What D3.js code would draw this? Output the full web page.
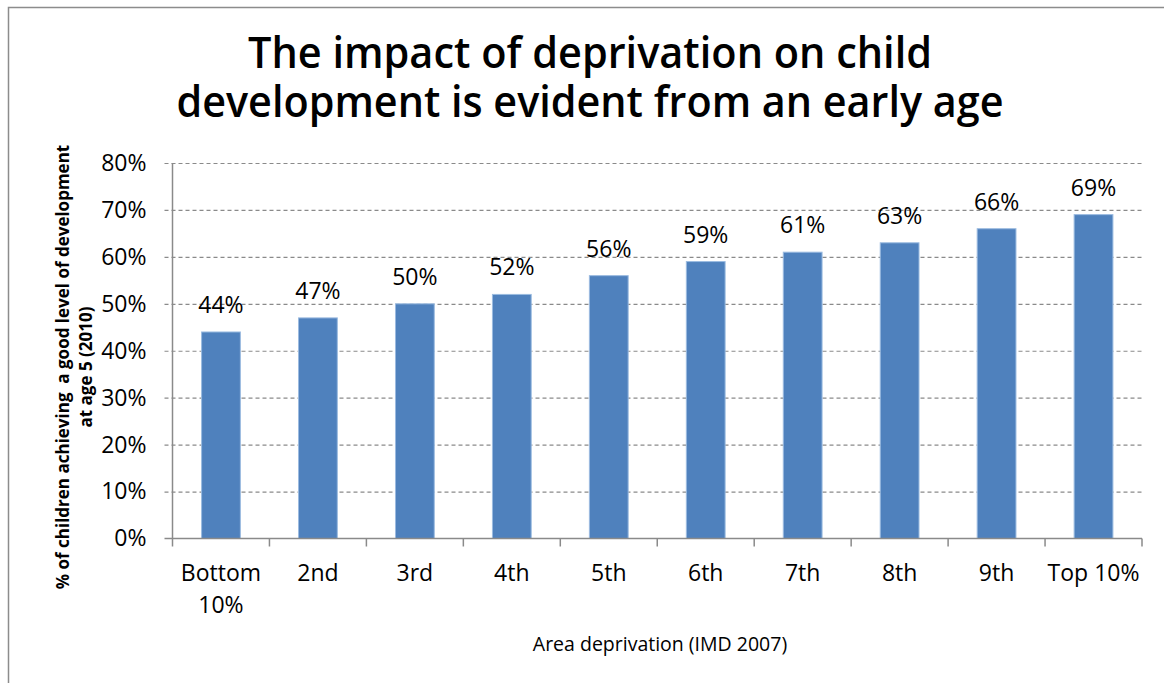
<!DOCTYPE html>
<html>
<head>
<meta charset="utf-8">
<script src="https://cdn.jsdelivr.net/npm/d3@7"></script>
<style>
  html, body { margin: 0; padding: 0; background: #fff; }
  svg { display: block; font-family: "Open Sans", "Noto Sans", sans-serif; }
</style>
</head>
<body>
<svg id="chart" width="1164" height="683"></svg>
<script>
// Share of children reaching a good level of development at age 5, by area deprivation decile
const categories = ["Bottom 10%", "2nd", "3rd", "4th", "5th", "6th", "7th", "8th", "9th", "Top 10%"];
const values = [44, 47, 50, 52, 56, 59, 61, 63, 66, 69];
const yTicks = [0, 10, 20, 30, 40, 50, 60, 70, 80];
const titleLines = ["The impact of deprivation on child", "development is evident from an early age"];
const yTitleLines = ["% of children achieving  a good level of development", "at age 5 (2010)"];
const xTitle = "Area deprivation (IMD 2007)";

const svg = d3.select("#chart");
const W = 1164, H = 683;
const m = { left: 172.5, right: 1142, top: 163, bottom: 538.5 };

// Outer chart frame
svg.append("rect")
  .attr("x", 8.5).attr("y", 7.5)
  .attr("width", W + 20).attr("height", H + 20)
  .attr("fill", "none").attr("stroke", "#8c8c8c").attr("stroke-width", 1.5);

const x = d3.scaleBand().domain(categories).range([m.left, m.right]).paddingInner(0.6).paddingOuter(0.3);
const xb = d3.scaleBand().domain(categories).range([m.left, m.right]).padding(0);
const y = d3.scaleLinear().domain([0, 80]).range([m.bottom, m.top]);

// Title: one text element, one tspan per line
const titleWidths = [684, 827];
svg.append("text")
  .attr("text-anchor", "middle")
  .attr("font-size", 43.5).attr("font-weight", 600).attr("fill", "#000")
  .selectAll("tspan").data(titleLines).join("tspan")
  .attr("x", 590).attr("y", (d, i) => 68 + i * 48.5)
  .attr("textLength", (d, i) => titleWidths[i])
  .attr("lengthAdjust", "spacingAndGlyphs")
  .text(d => d);

// Dashed gridlines (with outward tick stubs)
const yAxis = d3.axisLeft(y).tickValues(yTicks).tickFormat(d => d + "%")
  .tickSize(-(m.right - m.left)).tickSizeOuter(0).tickPadding(26);
const gy = svg.append("g").attr("transform", `translate(${m.left},0)`).call(yAxis);
gy.select(".domain").remove();
gy.selectAll(".tick line")
  .attr("x1", -8)
  .attr("stroke", "#8a8a8a").attr("stroke-width", 1.2).attr("stroke-dasharray", "4,3");
gy.selectAll(".tick text")
  .attr("font-size", 23).attr("fill", "#000")
  .attr("font-family", "\"Open Sans\", sans-serif");
gy.selectAll(".tick").filter(d => d === 0).select("line").remove();

// Bars
svg.append("g").selectAll("rect").data(values).join("rect")
  .attr("x", (d, i) => x(categories[i]))
  .attr("y", d => y(d))
  .attr("width", x.bandwidth())
  .attr("height", d => y(0) - y(d))
  .attr("fill", "#4F81BD")
  .attr("stroke", "#9bbbe0").attr("stroke-width", 1);

// Value labels
svg.append("g").selectAll("text").data(values).join("text")
  .attr("x", (d, i) => x(categories[i]) + x.bandwidth() / 2)
  .attr("y", d => y(d) - 19)
  .attr("text-anchor", "middle")
  .attr("font-size", 23).attr("fill", "#000")
  .text(d => d + "%");

// Vertical axis line
svg.append("line")
  .attr("x1", m.left).attr("x2", m.left)
  .attr("y1", m.top).attr("y2", m.bottom)
  .attr("stroke", "#8a8a8a").attr("stroke-width", 1.5);

// Horizontal axis with category boundary ticks
const xAxis = svg.append("g");
xAxis.append("line")
  .attr("x1", m.left - 8).attr("x2", m.right)
  .attr("y1", m.bottom).attr("y2", m.bottom)
  .attr("stroke", "#8a8a8a").attr("stroke-width", 1.5);
const bounds = categories.map(c => xb(c)).concat([m.right]);
xAxis.selectAll("line.tk").data(bounds).join("line").attr("class", "tk")
  .attr("x1", d => d).attr("x2", d => d)
  .attr("y1", m.bottom).attr("y2", m.bottom + 8)
  .attr("stroke", "#8a8a8a").attr("stroke-width", 1.5);

// Category labels (wrapped onto two lines where needed)
const catLines = c => (c === "Bottom 10%" ? ["Bottom", "10%"] : [c]);
xAxis.selectAll("text.cat").data(categories).join("text").attr("class", "cat")
  .attr("x", c => xb(c) + xb.bandwidth() / 2)
  .attr("y", 581)
  .attr("text-anchor", "middle")
  .attr("font-size", 23).attr("fill", "#000")
  .each(function (c) {
    const t = d3.select(this);
    catLines(c).forEach((ln, i) => {
      t.append("tspan").attr("x", xb(c) + xb.bandwidth() / 2).attr("dy", i === 0 ? 0 : 32).text(ln);
    });
  });

// Axis titles
svg.append("text")
  .attr("x", 660).attr("y", 651)
  .attr("text-anchor", "middle")
  .attr("font-size", 19.5).attr("fill", "#000")
  .text(xTitle);

svg.append("g").attr("transform", "translate(0,367) rotate(-90)")
  .selectAll("text").data(yTitleLines).join("text")
  .attr("x", 0).attr("y", (d, i) => 69 + i * 23)
  .attr("text-anchor", "middle")
  .attr("font-size", 17).attr("font-weight", "bold").attr("fill", "#000")
  .attr("xml:space", "preserve")
  .text(d => d);
</script>
</body>
</html>
